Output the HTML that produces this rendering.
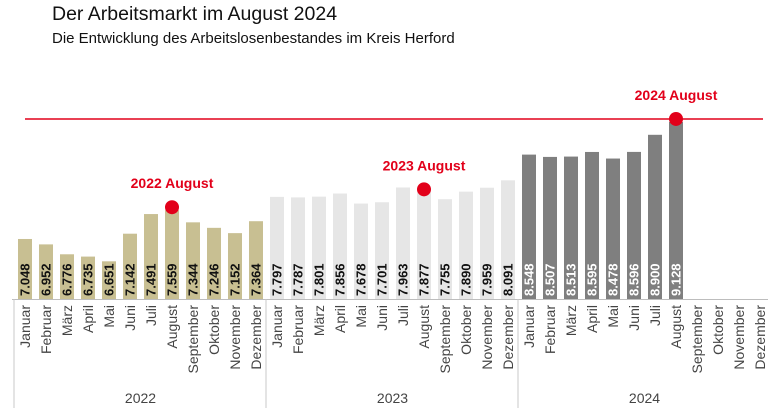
<!DOCTYPE html>
<html><head><meta charset="utf-8"><style>
body{margin:0;background:#fff;width:768px;height:411px;overflow:hidden;font-family:"Liberation Sans",Arial,sans-serif}
svg{display:block}
</style></head><body>
<svg id="c" width="768" height="411" xmlns="http://www.w3.org/2000/svg">
<text x="52" y="20" font-size="19.5" fill="#111">Der Arbeitsmarkt im August 2024</text>
<text x="52" y="43" font-size="15" fill="#111">Die Entwicklung des Arbeitslosenbestandes im Kreis Herford</text>
</svg>
<script>
const months = ["Januar","Februar","März","April","Mai","Juni","Juli","August","September","Oktober","November","Dezember"];
const years = ["2022","2023","2024"];
const values2022 = [7048,6952,6776,6735,6651,7142,7491,7559,7344,7246,7152,7364];
const values2023 = [7797,7787,7801,7856,7678,7701,7963,7877,7755,7890,7959,8091];
const values2024 = [8548,8507,8513,8595,8478,8596,8900,9128];
const highlights = ["2022 August","2023 August","2024 August"];
const refValue = 9128;

const NS="http://www.w3.org/2000/svg";
const svg=document.getElementById('c');
const baseY=299, x0=25, step=21, bw=14, yMin=5981, k=0.05625;
const yScale=v=>baseY-(v-yMin)*k;
const xScale=i=>x0+i*step;
function mk(tag,attrs){const e=document.createElementNS(NS,tag);for(const a in attrs)e.setAttribute(a,attrs[a]);svg.appendChild(e);return e;}
const fmt=v=>{const s=String(v);return s.slice(0,-3)+"."+s.slice(-3);};
const series=[values2022,values2023,values2024];
const fills=["#c8bf92","#e6e6e6","#7f7f7f"];
const labCol=["#111","#111","#fff"];

const rl=mk('line',{x1:25,x2:763,y1:yScale(refValue)-3,y2:yScale(refValue)-3,stroke:"#e2001a","stroke-width":1.5});



const ax=mk('line',{x1:12,x2:768,y1:baseY+0.5,y2:baseY+0.5,stroke:"#bdbdbd","stroke-width":1});



years.forEach((yr,yi)=>{
  const sx=xScale(yi*12)-11;
  const sep=mk('line',{x1:sx,x2:sx,y1:baseY,y2:408,stroke:"#c8c8c8","stroke-width":1});
  
  
  const yl=mk('text',{x:xScale(yi*12+5.5),y:403,"font-size":14,fill:"#444","text-anchor":"middle"});
  yl.textContent=yr;
  
  
  months.forEach((m,mi)=>{
    const i=yi*12+mi, cx=xScale(i);
    const t=mk('text',{x:0,y:0,"font-size":14,fill:"#444","text-anchor":"end",transform:`translate(${cx+5},${baseY+6}) rotate(-90)`});
    t.textContent=m;
    
    
  });
  series[yi].forEach((v,mi)=>{
    const cx=xScale(yi*12+mi), top=yScale(v);
    const r=mk('rect',{x:cx-bw/2,y:top,width:bw,height:baseY-top,fill:fills[yi]});
    
    
    const t=mk('text',{x:0,y:0,"font-size":13,"font-weight":"bold",fill:labCol[yi],transform:`translate(${cx+4.5},${baseY-3}) rotate(-90)`});
    t.textContent=fmt(v);
    
    
  });
  const v=series[yi][7], cx=xScale(yi*12+7), top=yScale(v);
  const d=mk('circle',{cx:cx,cy:top-3,r:7,fill:"#e2001a"});
  
  
  const hl=mk('text',{x:cx,y:top-22,"font-size":14,"font-weight":"bold",fill:"#e2001a","text-anchor":"middle"});
  hl.textContent=highlights[yi];
  
  
});
</script>
</body></html>
